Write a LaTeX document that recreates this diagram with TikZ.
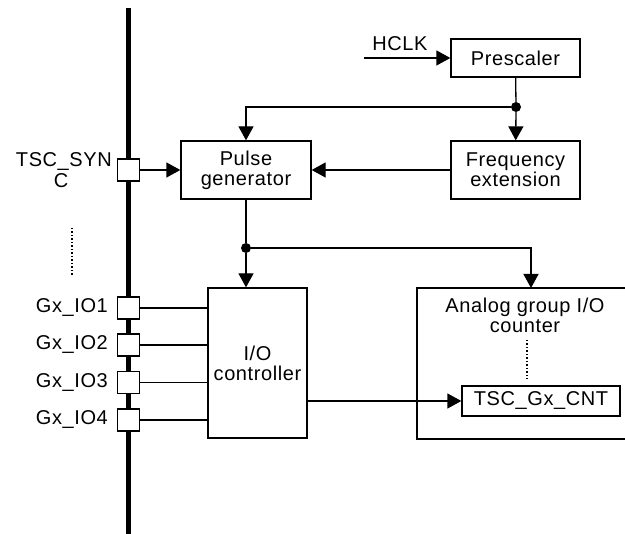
\documentclass[tikz,border=0pt]{standalone}
\usepackage{fontspec}
\setmainfont[LetterSpace=3]{Liberation Sans}
\usepackage{tikz}
\usetikzlibrary{arrows.meta, positioning}

\begin{document}
\begin{tikzpicture}[
    x=1pt, y=-1pt,
    font=\fontsize{20}{20}\selectfont,
    block/.style={draw, line width=1.3pt, fill=white, align=center, inner sep=0pt},
    pad/.style={draw, line width=1.3pt, fill=white, minimum size=22pt, inner sep=0pt},
    arrow/.style={-{Triangle[length=14pt, width=15pt]}, line width=1.3pt},
    wire/.style={line width=1.3pt},
    dot/.style={circle, fill, inner sep=0pt, minimum size=10pt},
]
    \useasboundingbox (0,0) rectangle (625,534);

    % bus
    \coordinate (bustop) at (128.5,8);
    \coordinate (busbot) at (128.5,534);
    \draw[line width=5pt] (bustop) -- (busbot);

    % blocks
    \node[block, minimum width=129pt, minimum height=38pt] (pre) at (515.5,58) {Prescaler};
    \node[block, minimum width=129pt, minimum height=58pt] (freq) at (515.5,170) {Frequency\\extension};
    \node[block, minimum width=130pt, minimum height=58pt] (pulse) at (246,170) {Pulse\\generator};
    \node[block, minimum width=99pt, minimum height=150pt] (ioc) at (257.5,363) {I/O\\controller};
    \draw[wire, fill=white] (640,288) -- (417,288) -- (417,439) -- (640,439);
    \node[align=center, inner sep=0pt] (agc) at (525,315) {Analog group I/O\\counter};
    \node[block, minimum width=158pt, minimum height=30pt] (cnt) at (541,401) {TSC\_Gx\_CNT};
    \coordinate (agctop) at (531,288);

    % pads
    \node[pad] (sync) at (128.5,170) {};
    \node[anchor=base east, inner sep=0pt] (synclbl) at (112,167) {TSC\_SYN};
    \node[anchor=base, inner sep=0pt] (synclbl2) at (61,188) {C};
    \foreach \i/\y in {1/308, 2/345, 3/382.5, 4/420} {
        \node[pad] (io\i) at (128.5,\y) {};
        \node[anchor=east, inner sep=0pt] at (108,\y) {Gx\_IO\i};
        \draw[wire] (io\i) -- (io\i -| ioc.west);
    }

    % dotted marks
    \draw[dotted, line width=1.5pt] (72,228) -- (72,277);
    \draw[dotted, line width=1.5pt] (527,340) -- (527,379);

    % clock path
    \coordinate (hclk) at (364,58);
    \node[anchor=base, inner sep=0pt] (hclklbl) at (400,51) {HCLK};
    \draw[arrow] (hclk) -- (pre);
    \node[dot] (fb) at (516,107) {};
    \draw[wire] (pre) -- (fb);
    \draw[arrow] (fb) -- (freq);
    \draw[arrow] (fb) -| (pulse.north);
    \draw[arrow] (freq) -- (pulse);
    \draw[arrow] (sync) -- (pulse);

    % pulse distribution
    \node[dot] (pd) at (246,248) {};
    \draw[wire] (pulse) -- (pd);
    \draw[arrow] (pd) -- (ioc.north -| pd);
    \draw[arrow] (pd) -| (agctop);
    \draw[arrow] (cnt.west -| ioc.east) -- (cnt);
\end{tikzpicture}
\end{document}
